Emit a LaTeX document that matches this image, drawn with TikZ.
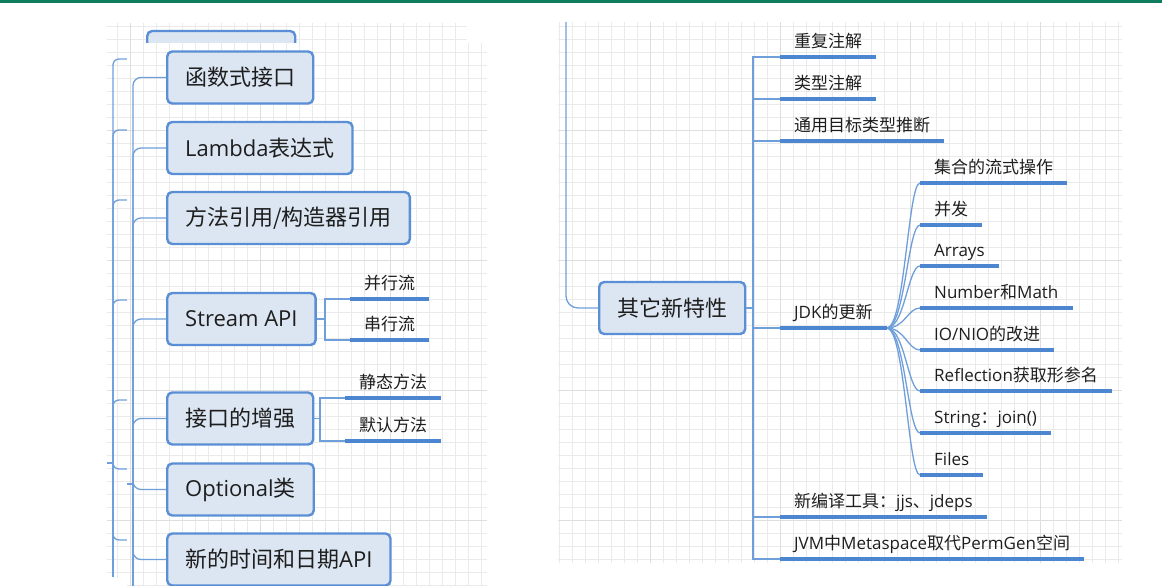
\documentclass[tikz,border=0pt]{standalone}
\usepackage{fontspec}
\setmainfont{Noto Sans CJK SC}
\newfontfamily\enfont{Open Sans}
\newcommand{\en}[1]{{\enfont #1}}
\usepackage{xcolor}
\usepackage{tikz}
\usetikzlibrary{positioning}
\definecolor{boxfill}{HTML}{DCE6F2}
\definecolor{boxline}{HTML}{5A8FD6}
\definecolor{connline}{HTML}{6F9FDB}
\definecolor{ulinec}{HTML}{4C86D0}
\definecolor{gridc}{HTML}{EAEAEA}
\definecolor{gridmaj}{HTML}{DEDEDE}
\definecolor{barc}{HTML}{107D5F}
\definecolor{inkc}{HTML}{1E1E1E}

\begin{document}
\begin{tikzpicture}[
    x=1pt, y=-1pt,
    box/.style={draw=boxline, line width=2.4pt, fill=boxfill, rounded corners=5pt, anchor=west, minimum height=52pt, inner xsep=18pt, text=inkc, font=\fontsize{22}{26}\selectfont},
    leaf/.style={anchor=south west, inner xsep=14pt, inner ysep=0pt, text depth=9.5pt, text=inkc, font=\fontsize{17}{20}\selectfont},
    conn/.style={draw=connline, line width=1.3pt},
    uline/.style={draw=ulinec, line width=4pt},
    gridminor/.style={draw=gridc, line width=0.8pt},
    gridmajor/.style={draw=gridmaj, line width=1pt}
]
    \useasboundingbox (0,0) rectangle (1162,586);
    \clip (0,0) rectangle (1162,586);
    \fill[barc] (0,0) rectangle (1162,3.5);

    % back panel (left)
    \draw[gridminor, step=13pt] (107,23) grid (467,578);
    \draw[gridmajor, step=130pt] (107,23) grid (467,578);
    \node[box, minimum width=148pt] (prevbox) at (146,57) {};
    \coordinate (outpar) at (113,463);
    \draw[conn] (107,463) -- (outpar);
    \foreach \y in {59,130,200,300,400,469,540}
        \draw[conn, rounded corners=6pt] (outpar) |- (127,\y);
    \draw[conn] (outpar) -- (113,577);

    % front panel (left)
    \fill[white] (127,43) rectangle (487,586);
    \draw[gridminor, step=13pt] (127,43) grid (487,586);
    \draw[gridmajor, step=130pt] (127,43) grid (487,586);

    \node[box] (func) at (166,77.5) {函数式接口};
    \node[box] (lambda) at (166,148) {\en{Lambda}表达式};
    \node[box] (methref) at (166,218) {方法引用/构造器引用};
    \node[box] (stream) at (166,319) {\en{Stream API}};
    \node[box] (iface) at (166,418.5) {接口的增强};
    \node[box] (optional) at (166,489.5) {\en{Optional}类};
    \node[box] (datetime) at (166,559.5) {新的时间和日期\en{API}};

    \coordinate (inpar) at (133,484);
    \draw[conn] (127,484) -- (inpar);
    \foreach \n in {func,lambda,methref,stream,iface,optional,datetime}
        \draw[conn, rounded corners=8pt] (inpar) |- (\n.west);
    \draw[conn] (inpar) -- (133,586);

    % Stream API / interface children
    \node[leaf] (parallel) at (350,299) {并行流};
    \node[leaf] (serial) at (350,340) {串行流};
    \node[leaf] (staticm) at (345,398) {静态方法};
    \node[leaf] (defaultm) at (345,441) {默认方法};
    \coordinate (streamfork) at (325,319);
    \coordinate (ifacefork) at (320,418.5);
    \draw[conn] (stream.east) -- (streamfork);
    \draw[conn] (streamfork) |- (parallel.south west);
    \draw[conn] (streamfork) |- (serial.south west);
    \draw[conn] (iface.east) -- (ifacefork);
    \draw[conn] (ifacefork) |- (staticm.south west);
    \draw[conn] (ifacefork) |- (defaultm.south west);

    % right panel
    \draw[gridminor, step=13pt] (558,22) grid (1122,563);
    \draw[gridmajor, step=130pt] (558,22) grid (1122,563);

    \node[box] (other) at (598,308) {其它新特性};
    \draw[conn, rounded corners=12pt] (566,22) |- (other.west);

    \node[leaf] (repeat) at (780,57) {重复注解};
    \node[leaf] (typeann) at (780,99) {类型注解};
    \node[leaf] (infer) at (780,141) {通用目标类型推断};
    \node[leaf] (jdk) at (780,328) {\en{JDK}的更新};
    \node[leaf] (tools) at (780,517) {新编译工具：\en{jjs}、\en{jdeps}};
    \node[leaf] (jvm) at (780,559) {\en{JVM}中\en{Metaspace}取代\en{PermGen}空间};

    \coordinate (otherfork) at (753,308);
    \draw[conn] (other.east) -- (otherfork);
    \foreach \n in {repeat,typeann,infer,jdk,tools,jvm}
        \draw[conn] (otherfork) |- (\n.south west);

    % JDK updates
    \node[leaf] (collops) at (920,183) {集合的流式操作};
    \node[leaf] (concur) at (920,225) {并发};
    \node[leaf] (arrays) at (920,266) {\en{Arrays}};
    \node[leaf] (nummath) at (920,308) {\en{Number}和\en{Math}};
    \node[leaf] (ionio) at (920,350) {\en{IO/NIO}的改进};
    \node[leaf] (reflect) at (920,391) {\en{Reflection}获取形参名};
    \node[leaf] (strjoin) at (920,433) {\en{String}：\en{join()}};
    \node[leaf] (files) at (920,475) {\en{Files}};
    \foreach \n in {collops,concur,arrays,nummath,ionio,reflect,strjoin,files}
        \draw[conn] (jdk.south east) .. controls +(18,0) and +(-12,0) .. (\n.south west);

    \foreach \n in {parallel,serial,staticm,defaultm,repeat,typeann,infer,jdk,tools,jvm,collops,concur,arrays,nummath,ionio,reflect,strjoin,files}
        \draw[uline] (\n.south west) -- (\n.south east);
\end{tikzpicture}
\end{document}
